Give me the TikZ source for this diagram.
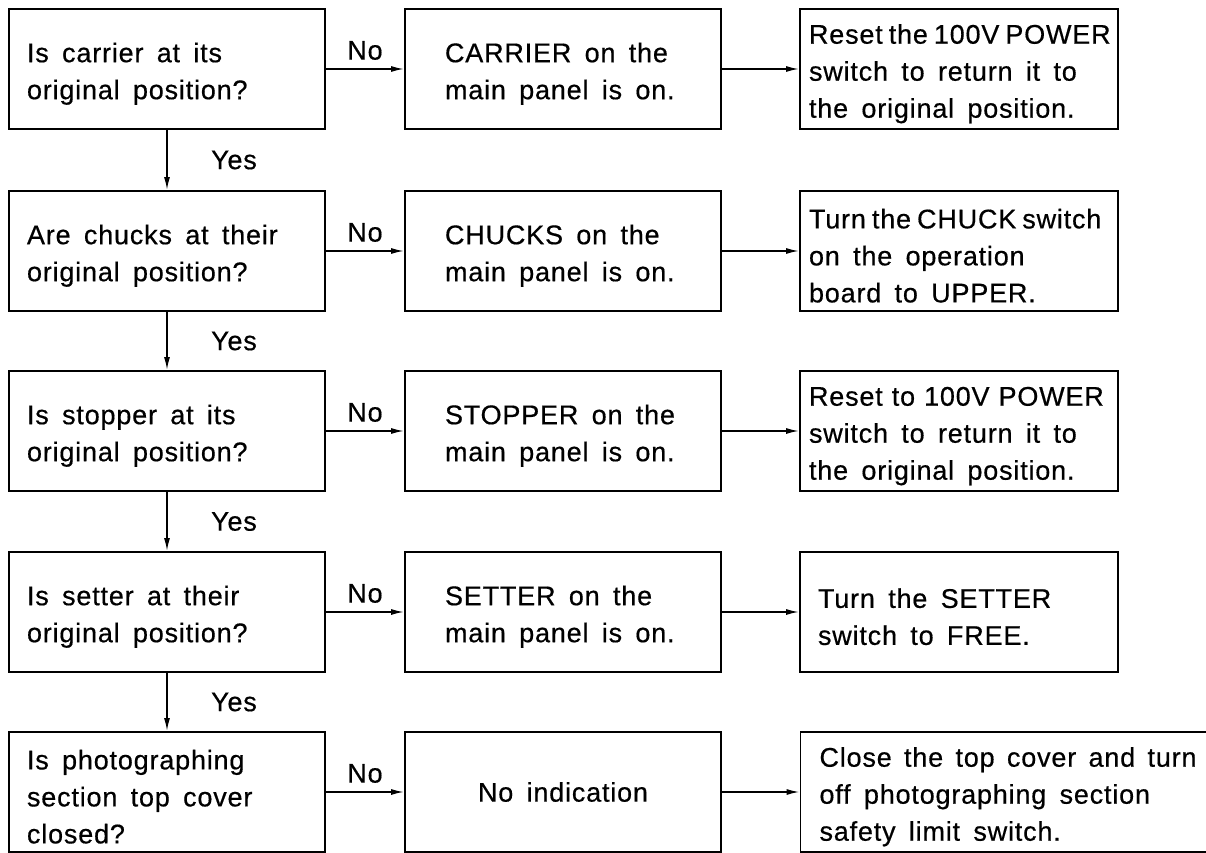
\documentclass[tikz,border=0pt]{standalone}
\usepackage{fontspec}
\setmainfont{Liberation Sans}[LetterSpace=3,WordSpace=1.6,FakeBold=0.5]
\usetikzlibrary{arrows.meta}
\newcommand{\setwords}[2]{\mbox{\spaceskip=#1pt plus 1pt\relax #2}}
\tikzset{
    box/.style={draw, line width=1.8pt, minimum height=120pt},
    lowered/.style={execute at begin node={\rule{0pt}{29pt}}},
    qbox/.style={box, lowered, text width=280pt, inner xsep=18pt, align=flush left},
    ibox/.style={box, lowered, text width=236pt, inner xsep=40pt, align=flush left},
    rbox/.style={box, lowered, text width=300pt, inner xsep=9pt, align=flush left},
    arr/.style={line width=1.6pt, -{Latex[length=13pt,width=6pt]}},
    yes/.style={midway, right, xshift=40pt},
    no/.style={midway, above=5pt}
}
\begin{document}
\begin{tikzpicture}[x=1pt, y=-1pt, font=\fontsize{27}{37}\selectfont]
    \useasboundingbox (0,0) rectangle (1206,853);
    % Questions down the left side.
        \node[qbox] (q1) at (167,69) {Is carrier at its\\original position?};
        \node[qbox] (q2) at (167,251) {Are chucks at their\\original position?};
        \node[qbox] (q3) at (167,431) {Is stopper at its\\original position?};
        \node[qbox] (q4) at (167,612) {Is setter at their\\original position?};
        \node[qbox] (q5) at (167,792) {Is photographing\\section top cover\\closed?};
    % What the main panel shows.
        \node[ibox] (i1) at (563,69) {CARRIER on the\\main panel is on.};
        \node[ibox] (i2) at (563,251) {CHUCKS on the\\main panel is on.};
        \node[ibox] (i3) at (563,431) {STOPPER on the\\main panel is on.};
        \node[ibox] (i4) at (563,612) {SETTER on the\\main panel is on.};
        \node[box, minimum width=316pt] (i5) at (563,792) {No indication};
    % What to do.
        \node[rbox] (r1) at (959,69) {\setwords{6}{Reset the 100V POWER}\\switch to return it to\\the original position.};
        \node[rbox] (r2) at (959,251) {\setwords{6}{Turn the CHUCK switch}\\on the operation\\board to UPPER.};
        \node[rbox] (r3) at (959,431) {\setwords{9}{Reset to 100V POWER}\\switch to return it to\\the original position.};
        \node[rbox, inner xsep=18pt, text width=282pt] (r4) at (959,612) {Turn the SETTER\\switch to FREE.};
        \node[rbox, inner xsep=19pt, text width=377pt] (r5) at (1008,792) {Close the top cover and turn\\off photographing section\\safety limit switch.};
    % Yes arrows.
        \draw[arr] (q1) -- node[yes] {Yes} (q2);
        \draw[arr] (q2) -- node[yes] {Yes} (q3);
        \draw[arr] (q3) -- node[yes] {Yes} (q4);
        \draw[arr] (q4) -- node[yes] {Yes} (q5);
    % No arrows, then on to the remedy.
        \draw[arr] (q1) -- node[no] {No} (i1);
        \draw[arr] (q2) -- node[no] {No} (i2);
        \draw[arr] (q3) -- node[no] {No} (i3);
        \draw[arr] (q4) -- node[no] {No} (i4);
        \draw[arr] (q5) -- node[no] {No} (i5);
        \draw[arr] (i1) -- (r1);
        \draw[arr] (i2) -- (r2);
        \draw[arr] (i3) -- (r3);
        \draw[arr] (i4) -- (r4);
        \draw[arr] (i5) -- (r5);
\end{tikzpicture}
\end{document}
